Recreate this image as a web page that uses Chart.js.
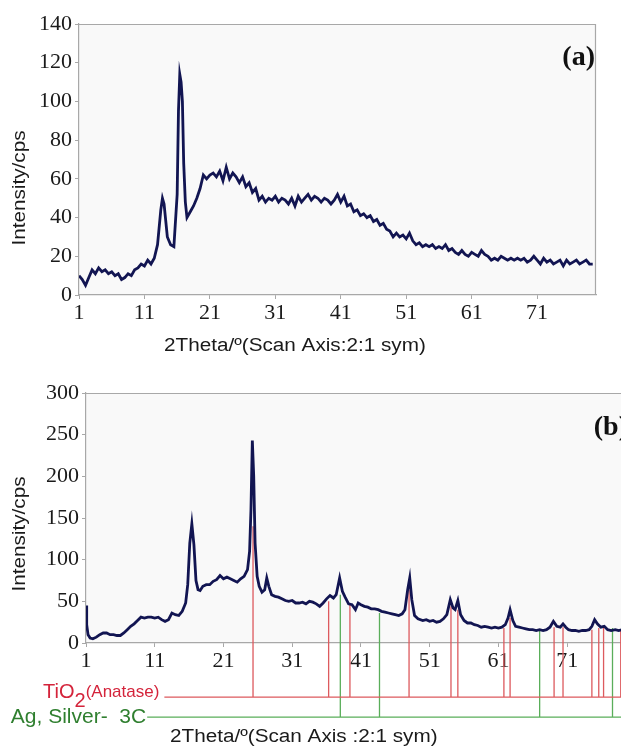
<!DOCTYPE html>
<html>
<head>
<meta charset="utf-8">
<script src="https://cdn.jsdelivr.net/npm/chart.js@4.4.1/dist/chart.umd.min.js"></script>
<style>
  html, body { margin: 0; padding: 0; background: #fff; overflow: hidden; }
  #wrap { position: relative; width: 621px; height: 752px; overflow: hidden; }
  #boxA { position: absolute; left: 0; top: 0; }
  #boxB { position: absolute; left: 0; top: 370px; }
</style>
</head>
<body>
<div id="wrap">
  <div id="boxA"><canvas id="chartA" width="621" height="370"></canvas></div>
  <div id="boxB"><canvas id="chartB" width="632" height="382"></canvas></div>
</div>
<script>
// ---- data ----
// (a) raw sample scan
const thetaA = [1, 1.5, 2, 2.5, 3, 3.5, 4, 4.5, 5, 5.5, 6, 6.5, 7, 7.5, 8, 8.5, 9, 9.5, 10, 10.5,
  11, 11.5, 12, 12.5, 13, 13.5, 13.75, 14, 14.5, 15, 15.5, 16, 16.2, 16.4, 16.6, 16.8, 17, 17.25, 17.5, 18, 18.5,
  19, 19.5, 20, 20.5, 21, 21.5, 22, 22.5, 23, 23.5, 24, 24.5, 25, 25.5, 26, 26.5, 27, 27.5, 28, 28.5,
  29, 29.5, 30, 30.5, 31, 31.5, 32, 32.5, 33, 33.5, 34, 34.5, 35, 35.5, 36, 36.5, 37, 37.5, 38, 38.5,
  39, 39.5, 40, 40.5, 41, 41.5, 42, 42.5, 43, 43.5, 44, 44.5, 45, 45.5, 46, 46.5, 47, 47.5, 48, 48.5,
  49, 49.5, 50, 50.5, 51, 51.5, 52, 52.5, 53, 53.5, 54, 54.5, 55, 55.5, 56, 56.5, 57, 57.5, 58, 58.5,
  59, 59.5, 60, 60.5, 61, 61.5, 62, 62.5, 63, 63.5, 64, 64.5, 65, 65.5, 66, 66.5, 67, 67.5, 68, 68.5,
  69, 69.5, 70, 70.5, 71, 71.5, 72, 72.5, 73, 73.5, 74, 74.5, 75, 75.5, 76, 76.5, 77, 77.5, 78, 78.5,
  79, 79.5];
const countsA = [10, 8, 5, 9, 13, 11, 14, 12, 13, 11, 12, 10, 11, 8, 9, 11, 10, 13, 14, 16,
  15, 18, 16, 19, 26, 44, 50, 47, 30, 26, 25, 52, 95, 114, 110, 100, 68, 48, 40, 43, 46,
  50, 55, 62, 60, 62, 63, 61, 64, 59, 66, 60, 63, 61, 58, 61, 56, 58, 53, 55, 49,
  51, 48, 50, 49, 51, 48, 50, 49, 47, 50, 46, 51, 48, 50, 52, 49, 51, 50, 48, 50,
  49, 47, 49, 52, 48, 51, 46, 47, 43, 44, 41, 42, 40, 41, 38, 39, 36, 37, 34, 33,
  30, 32, 30, 31, 29, 32, 28, 26, 27, 25, 26, 25, 26, 24, 25, 24, 26, 23, 24, 22,
  21, 23, 21, 20, 22, 21, 20, 23, 21, 20, 18, 19, 18, 20, 19, 18, 19, 18, 19, 18,
  19, 17, 18, 20, 18, 16, 19, 17, 18, 16, 17, 18, 15, 18, 16, 17, 18, 16, 17, 18,
  16, 16];

// (b) Ag/TiO2 scan
const thetaB = [1, 1.1, 1.3, 1.6, 2, 2.5, 3, 3.5, 4, 4.5, 5, 5.5, 6, 6.5, 7, 7.5, 8, 8.5, 9, 9.5,
  10, 10.5, 11, 11.5, 12, 12.5, 13, 13.5, 14, 14.5, 15, 15.5, 15.8, 16.1, 16.4, 16.7, 17, 17.3, 17.6, 18,
  18.5, 19, 19.5, 20, 20.5, 21, 21.5, 22, 22.5, 23, 23.5, 24, 24.5, 24.8, 25, 25.2, 25.4, 25.6, 25.9, 26.2,
  26.6, 27, 27.3, 27.6, 28, 28.5, 29, 29.5, 30, 30.5, 31, 31.5, 32, 32.5, 33, 33.5, 34, 34.5, 35, 35.5,
  36, 36.5, 37, 37.4, 37.9, 38.3, 38.7, 39.2, 39.7, 40.2, 40.6, 41, 41.5, 42, 42.5, 43, 43.5, 44, 44.5, 45,
  45.5, 46, 46.5, 47, 47.4, 47.8, 48.1, 48.4, 48.8, 49.3, 50, 50.5, 51, 51.5, 52, 52.5, 53, 53.5, 54, 54.4,
  54.7, 55.1, 55.5, 56, 56.5, 57, 57.5, 58, 58.5, 59, 59.5, 60, 60.5, 61, 61.5, 62, 62.4, 62.7, 63.1, 63.5,
  64, 64.5, 65, 65.5, 66, 66.5, 67, 67.5, 68, 68.5, 69, 69.5, 70, 70.4, 70.8, 71.2, 71.7, 72.2, 72.7, 73.2,
  73.7, 74.2, 74.6, 75, 75.4, 75.9, 76.4, 76.9, 77.4, 78, 78.5, 79, 79.5, 80];
const countsB = [45, 22, 10, 6, 5, 7, 10, 12, 12, 10, 10, 9, 9, 12, 16, 20, 23, 27, 31, 30,
  31, 31, 30, 31, 28, 26, 28, 36, 34, 33, 38, 48, 70, 120, 143, 118, 75, 64, 63, 68,
  70, 70, 74, 76, 81, 77, 79, 77, 75, 73, 77, 80, 88, 110, 160, 243, 200, 120, 80, 68,
  61, 64, 78, 68, 58, 56, 55, 53, 51, 50, 51, 48, 48, 49, 47, 50, 49, 47, 44, 48,
  53, 57, 54, 58, 78, 62, 55, 47, 46, 40, 48, 46, 44, 43, 41, 41, 40, 38, 37, 36,
  35, 34, 33, 35, 40, 64, 78, 52, 33, 29, 27, 28, 26, 27, 25, 26, 29, 34, 52, 42,
  40, 51, 34, 27, 24, 24, 22, 21, 19, 20, 19, 18, 19, 18, 19, 22, 30, 40, 27, 20,
  19, 18, 17, 16, 16, 15, 16, 15, 16, 19, 26, 20, 19, 23, 19, 16, 15, 15, 14, 15,
  15, 16, 20, 28, 23, 19, 20, 16, 15, 16, 15, 16, 15, 16];

// reference patterns (stick positions and heights)
const anataseTheta = [25.3, 36.3, 39.4, 48.0, 54.1, 55.1, 61.8, 62.7, 69.1, 70.4, 74.6, 75.6, 76.3, 78.8];
const anataseTop = [140, 50, 47, 64, 44, 40, 18, 30, 19, 19, 16, 18, 18, 16];
const silverTheta = [38.0, 43.7, 67.0, 77.6];
const silverTop = [58, 36, 16, 18];

const xTicks = [1, 11, 21, 31, 41, 51, 61, 71];
const yTicksA = [0, 20, 40, 60, 80, 100, 120, 140];
const yTicksB = [0, 50, 100, 150, 200, 250, 300];

// ---- drawing ----
const navy = '#121552';
const redLine = '#dd5a5e';
const greenLine = '#5aae5a';
const tickFont = { family: 'Liberation Serif', size: 22 };
const textStretch = 1.15;

// where the stick combs hang below the x axis (in y units of panel b)
const anataseBase = -65;
const silverBase = -89;
const anataseStart = 12.4;
const silverStart = 9.9;
const combEnd = 81;

var toPoints = function(xs, ys) {
  return xs.map((x, i) => ({ x: x, y: ys[i] }));
};

var comb = function(xs, tops, base, start) {
  var pts = [{ x: start, y: base }, { x: combEnd, y: base }, { x: combEnd, y: null }];
  xs.forEach((x, i) => {
    pts.push({ x: x, y: base });
    pts.push({ x: x, y: tops[i] });
    pts.push({ x: x, y: null });
  });
  return pts;
};

// stretched text, the source font runs wider than Arial
var wideText = function(ctx, str, x, y, rot) {
  ctx.save();
  ctx.translate(x, y);
  if (rot) ctx.rotate(rot);
  ctx.scale(textStretch, 1);
  ctx.fillText(str, 0, 0);
  ctx.restore();
};

const decor = {
  id: 'decor',
  beforeDraw(chart, args, o) {
    const a = chart.chartArea, ctx = chart.ctx;
    ctx.save();
    ctx.fillStyle = '#f9f9f9';
    ctx.fillRect(a.left, a.top, a.right - a.left, a.bottom - a.top);
    ctx.restore();
  },
  afterDraw(chart, args, o) {
    const a = chart.chartArea, ctx = chart.ctx;
    ctx.save();
    ctx.strokeStyle = '#a8a8a8';
    ctx.lineWidth = 1.2;
    ctx.beginPath();
    ctx.moveTo(a.left, a.top + 0.5);
    ctx.lineTo(a.right, a.top + 0.5);
    ctx.moveTo(a.right - 0.5, a.top);
    ctx.lineTo(a.right - 0.5, a.bottom);
    ctx.stroke();

    ctx.fillStyle = '#111';
    ctx.font = 'bold 28px "Liberation Serif"';
    ctx.textAlign = 'right';
    ctx.textBaseline = 'alphabetic';
    ctx.fillText(o.panel, a.right - 1, a.top + o.panelDy);

    ctx.fillStyle = '#1a1a1a';
    ctx.font = '18px "Liberation Sans"';
    ctx.textAlign = 'left';
    ctx.textBaseline = 'middle';
    wideText(ctx, o.xTitle, o.xTitleX, o.xTitleY, 0);

    ctx.textAlign = 'center';
    wideText(ctx, 'Intensity/cps', o.yTitleX, o.yTitleY, -Math.PI / 2);

    if (o.phases) {
      const xs = chart.scales.x, ys = chart.scales.y;
      // TiO2(Anatase) label, right aligned against its comb
      let right = xs.getPixelForValue(anataseStart) - 5;
      let yb = ys.getPixelForValue(anataseBase);
      ctx.fillStyle = '#d4243b';
      ctx.textBaseline = 'alphabetic';
      ctx.textAlign = 'left';
      ctx.font = '17px "Liberation Sans"';
      const wAn = ctx.measureText('(Anatase)').width;
      ctx.font = '20px "Liberation Sans"';
      const w2 = ctx.measureText('2').width;
      const wTi = ctx.measureText('TiO').width;
      let x0 = right - wAn - w2 - wTi;
      ctx.fillText('TiO', x0, yb + 1);
      ctx.fillText('2', x0 + wTi, yb + 10);
      ctx.font = '17px "Liberation Sans"';
      ctx.fillText('(Anatase)', x0 + wTi + w2, yb);

      // Ag label
      right = xs.getPixelForValue(silverStart) - 1;
      yb = ys.getPixelForValue(silverBase);
      ctx.fillStyle = '#2f7f2f';
      ctx.font = '21px "Liberation Sans"';
      ctx.textAlign = 'right';
      ctx.textBaseline = 'middle';
      ctx.fillText('Ag, Silver-  3C', right, yb);
    }
    ctx.restore();
  }
};

var makeOptions = function(p) {
  return {
    responsive: false,
    animation: false,
    layout: { padding: { left: 0, top: p.top, right: p.right, bottom: 0 } },
    plugins: {
      legend: { display: false },
      tooltip: { enabled: false },
      decor: p.decor
    },
    elements: { point: { radius: 0 } },
    scales: {
      x: {
        type: 'linear',
        min: 1,
        max: 80,
        afterFit: (s) => { s.height = p.xHeight; },
        afterBuildTicks: (s) => { s.ticks = xTicks.map(v => ({ value: v })); },
        border: { display: true, color: '#a8a8a8', width: 1.2 },
        grid: { display: true, drawOnChartArea: false, drawTicks: true, tickLength: 4, color: '#a8a8a8' },
        ticks: { autoSkip: false, maxRotation: 0, padding: 1, color: '#1a1a1a', font: tickFont }
      },
      y: {
        min: 0,
        max: p.yMax,
        afterFit: (s) => { s.width = p.yWidth; },
        afterBuildTicks: (s) => { s.ticks = p.yTicks.map(v => ({ value: v })); },
        border: { display: true, color: '#a8a8a8', width: 1.2 },
        grid: { display: true, drawOnChartArea: false, drawTicks: true, tickLength: 4, color: '#a8a8a8' },
        ticks: { padding: 3, color: '#1a1a1a', font: tickFont }
      }
    }
  };
};

new Chart(document.getElementById('chartA'), {
  type: 'line',
  data: {
    datasets: [{
      data: toPoints(thetaA, countsA),
      borderColor: navy,
      borderWidth: 2.8,
      tension: 0
    }]
  },
  options: makeOptions({
    top: 24, right: 25, xHeight: 75, yWidth: 79, yMax: 140, yTicks: yTicksA,
    decor: {
      panel: '(a)', panelDy: 41,
      xTitle: '2Theta/º(Scan Axis:2:1 sym)', xTitleX: 164, xTitleY: 346,
      yTitleX: 20, yTitleY: 188
    }
  }),
  plugins: [decor]
});

new Chart(document.getElementById('chartB'), {
  type: 'line',
  data: {
    datasets: [{
      data: toPoints(thetaB, countsB),
      borderColor: navy,
      borderWidth: 2.8,
      tension: 0,
      order: 0
    }, {
      data: comb(anataseTheta, anataseTop, anataseBase, anataseStart),
      borderColor: redLine,
      borderWidth: 1.3,
      spanGaps: false,
      clip: false,
      order: 1
    }, {
      data: comb(silverTheta, silverTop, silverBase, silverStart),
      borderColor: greenLine,
      borderWidth: 1.3,
      spanGaps: false,
      clip: false,
      order: 2
    }]
  },
  options: makeOptions({
    top: 23, right: 3, xHeight: 109, yWidth: 86, yMax: 300, yTicks: yTicksB,
    decor: {
      panel: '(b)', panelDy: 42,
      xTitle: '2Theta/º(Scan Axis :2:1 sym)', xTitleX: 170, xTitleY: 367,
      yTitleX: 20, yTitleY: 164,
      phases: true
    }
  }),
  plugins: [decor]
});
</script>
</body>
</html>
